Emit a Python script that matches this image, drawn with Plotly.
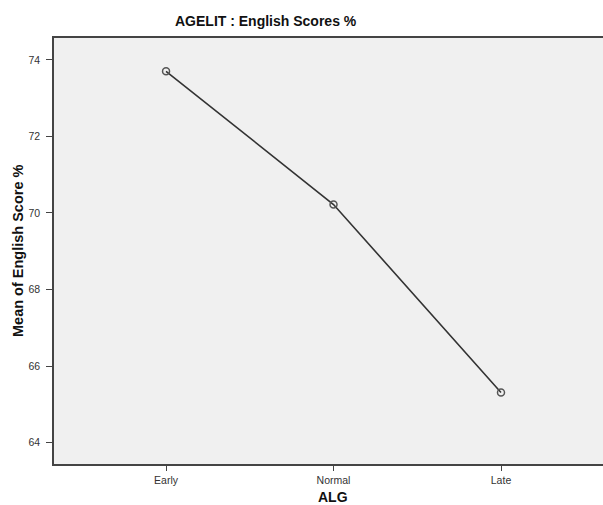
import plotly.graph_objects as go

categories = ["Early", "Normal", "Late"]
means = [73.70, 70.22, 65.31]
y_ticks = [64, 66, 68, 70, 72, 74]

W, H = 603, 505
L, R, T, B = 54, 0, 38, 41

fig = go.Figure()
fig.add_trace(go.Scatter(
    x=categories, y=means, mode="lines+markers",
    line=dict(color="#333333", width=1.6),
    marker=dict(symbol="circle-open", size=7, color="#555555", line=dict(width=1.5)),
    showlegend=False,
))

title_font = dict(size=14, color="#111111", family="Liberation Sans, Arial, sans-serif")

fig.update_layout(
    width=W, height=H,
    margin=dict(l=L, r=R, t=T, b=B, autoexpand=False),
    paper_bgcolor="white",
    plot_bgcolor="#f0f0f0",
    font=dict(family="Liberation Sans, Arial, sans-serif", color="#333333", size=10.5),
    xaxis=dict(
        range=[-0.669, 2.609], showgrid=False, zeroline=False, automargin=False,
        showline=True, linecolor="#444444", linewidth=2, mirror=True,
        ticks="outside", ticklen=5, tickcolor="#444444", tickwidth=1,
    ),
    yaxis=dict(
        range=[63.44, 74.57], showgrid=False, zeroline=False, automargin=False,
        tickvals=y_ticks,
        showline=True, linecolor="#444444", linewidth=1.5,
        ticks="outside", ticklen=6, tickcolor="#444444", tickwidth=1,
        ticklabelstandoff=4,
    ),
    annotations=[
        dict(text="<b>AGELIT : English Scores %</b>", xref="paper", yref="paper",
             x=(266 - L) / (W - L - R), y=1 + (T - 21) / (H - T - B),
             xanchor="center", yanchor="middle", showarrow=False, font=title_font),
        dict(text="<b>ALG</b>", xref="paper", yref="paper",
             x=(333 - L) / (W - L - R), y=-(497 - (H - B)) / (H - T - B),
             xanchor="center", yanchor="middle", showarrow=False, font=title_font),
        dict(text="<b>Mean of English Score %</b>", xref="paper", yref="paper",
             x=-(L - 18) / (W - L - R), y=0.5, textangle=-90,
             xanchor="center", yanchor="middle", showarrow=False,
             font=dict(title_font, size=14.5)),
    ],
)

fig.write_html("out.html", config={"displayModeBar": False},
               post_script="document.body.style.margin='0';document.body.style.overflow='hidden';")
